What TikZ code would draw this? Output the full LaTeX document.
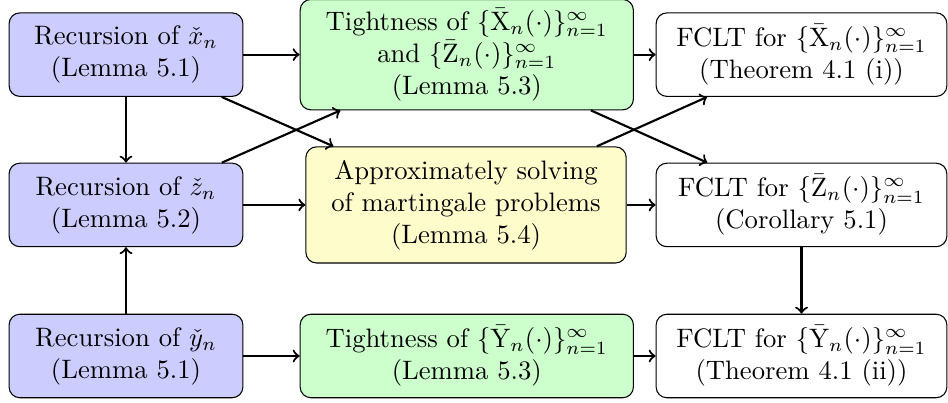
\documentclass[tikz,border=0pt]{standalone}
\usepackage{amsmath}

\begin{document}
\begin{tikzpicture}[
    box/.style={draw, rounded corners, align=center, minimum height=1.1cm},
    recbox/.style={box, fill=blue!20, minimum width=3.08cm},
    tightbox/.style={box, fill=green!20, minimum width=4.39cm},
    solvebox/.style={box, fill=yellow!20, minimum width=4.22cm, minimum height=1.53cm},
    fcltbox/.style={box, fill=white, minimum width=3.83cm},
    link/.style={->, thick}
]
    \useasboundingbox (0,0) rectangle (12.49,5.30);

    % Recursions
    \node[recbox] (recx) at (1.66,4.58) {Recursion of $\check{x}_n$\\(Lemma 5.1)};
    \node[recbox] (recz) at (1.66,2.60) {Recursion of $\check{z}_n$\\(Lemma 5.2)};
    \node[recbox] (recy) at (1.66,0.61) {Recursion of $\check{y}_n$\\(Lemma 5.1)};

    % Tightness and martingale problems
    \node[tightbox] (tightxz) at (6.15,4.58) {Tightness of $\{\bar{\mathrm{X}}_n(\cdot)\}_{n=1}^\infty$\\and $\{\bar{\mathrm{Z}}_n(\cdot)\}_{n=1}^\infty$\\(Lemma 5.3)};
    \node[solvebox] (solve) at (6.14,2.60) {Approximately solving\\of martingale problems\\(Lemma 5.4)};
    \node[tightbox] (tighty) at (6.15,0.61) {Tightness of $\{\bar{\mathrm{Y}}_n(\cdot)\}_{n=1}^\infty$\\(Lemma 5.3)};

    % FCLTs
    \node[fcltbox] (fcltx) at (10.56,4.58) {FCLT for $\{\bar{\mathrm{X}}_n(\cdot)\}_{n=1}^\infty$\\(Theorem 4.1 (i))};
    \node[fcltbox] (fcltz) at (10.56,2.60) {FCLT for $\{\bar{\mathrm{Z}}_n(\cdot)\}_{n=1}^\infty$\\(Corollary 5.1)};
    \node[fcltbox] (fclty) at (10.56,0.61) {FCLT for $\{\bar{\mathrm{Y}}_n(\cdot)\}_{n=1}^\infty$\\(Theorem 4.1 (ii))};

    % Links
    \draw[link] (recx) -- (recz);
    \draw[link] (recy) -- (recz);
    \draw[link] (recx) -- (tightxz);
    \draw[link] (recx) -- (solve);
    \draw[link] (recz) -- (tightxz);
    \draw[link] (recz) -- (solve);
    \draw[link] (recy) -- (tighty);
    \draw[link] (tightxz) -- (fcltx);
    \draw[link] (tightxz) -- (fcltz);
    \draw[link] (solve) -- (fcltx);
    \draw[link] (solve) -- (fcltz);
    \draw[link] (fcltz) -- (fclty);
    \draw[link] (tighty) -- (fclty);
\end{tikzpicture}
\end{document}
